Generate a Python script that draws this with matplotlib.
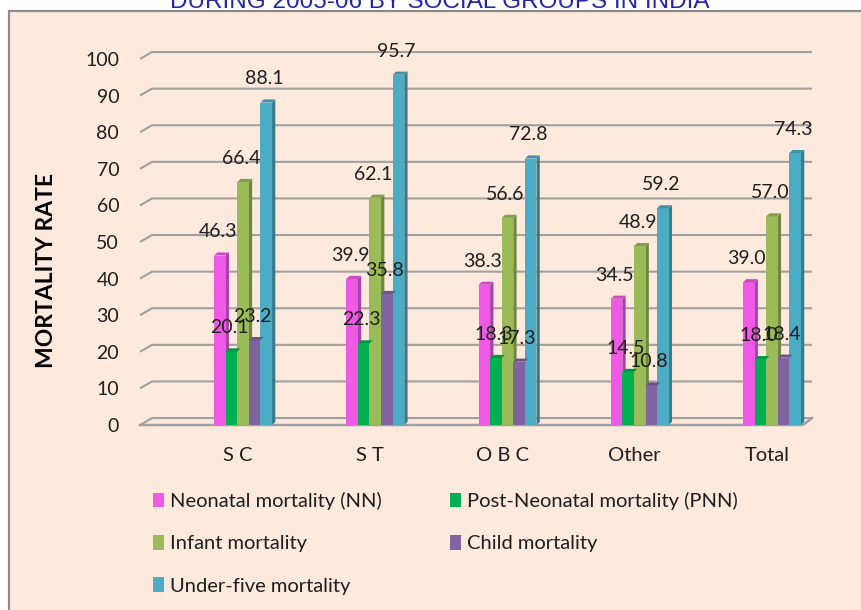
import matplotlib
matplotlib.use("Agg")
import matplotlib.pyplot as plt
from matplotlib.patches import Rectangle, Polygon, Patch
import matplotlib.colors as mcolors
import numpy as np

plt.rcParams['font.family'] = ['Lato', 'DejaVu Sans']

# data
categories = ['S C', 'S T', 'O B C', 'Other', 'Total']
neonatal = [46.3, 39.9, 38.3, 34.5, 39.0]
post_neonatal = [20.1, 22.3, 18.3, 14.5, 18.0]
infant = [66.4, 62.1, 56.6, 48.9, 57.0]
child = [23.2, 35.8, 17.3, 10.8, 18.4]
under_five = [88.1, 95.7, 72.8, 59.2, 74.3]

series_names = ['Neonatal mortality (NN)', 'Post-Neonatal mortality (PNN)',
                'Infant mortality', 'Child mortality', 'Under-five mortality']
series_values = [neonatal, post_neonatal, infant, child, under_five]
colors = ['#EE5AE6', '#00B050', '#9BBB59', '#8064A2', '#4BACC6']

W, H = 862, 610
bg = '#FDEADD'
grid_c = '#A0A0A0'
txt_c = '#1E1E1E'

fig = plt.figure(figsize=(W / 100, H / 100), dpi=100, facecolor='white')

# chart area frame
fig.patches.append(Rectangle((9 / W, -0.1), 1.1, 1 - 11 / H + 0.1, transform=fig.transFigure,
                             facecolor=bg, edgecolor='#8C8C8C', lw=1.6, zorder=-5))

fig.text(440 / W, 1 - 8 / H, 'DURING 2005-06 BY SOCIAL GROUPS IN INDIA',
         ha='center', va='baseline', color='#2525A5', fontsize=17.5,
         family=['Liberation Sans', 'DejaVu Sans'])

ax = fig.add_axes([140 / W, (H - 425) / H, (812 - 140) / W, (425 - 59) / H])
ax.set_facecolor('none')
for s in ax.spines.values():
    s.set_visible(False)

x0, x1 = -0.741, 4.341
ax.set_xlim(x0, x1)
ax.set_ylim(0, 100)

# 3d-ish gridlines (back wall offset)
dx, dy = 0.091, 1.9
for v in range(0, 101, 10):
    ax.plot([x0, x0 + dx, x1], [v, v + dy, v + dy], color=grid_c, lw=1.5,
            clip_on=False, zorder=1, solid_capstyle='butt')
ax.plot([x0, 4.272, x1], [0, 0, dy], color=grid_c, lw=1.8, clip_on=False, zorder=1)

idx = np.arange(len(categories))
w = 0.0877
sw, sd = 0.025, 0.85

def shade(c, f):
    r, g, b = mcolors.to_rgb(c)
    return (r * f, g * f, b * f)

for j, (name, vals, col) in enumerate(zip(series_names, series_values, colors)):
    pos = idx - 0.181 + (j + 0.5) * w
    bars = ax.bar(pos, vals, width=w, color=col, zorder=3 + j * 0.01, label=name)
    for rect in bars:
        xr = rect.get_x() + rect.get_width()
        h = rect.get_height()
        ax.add_patch(Polygon([(xr, 0), (xr + sw, sd), (xr + sw, h + sd), (xr, h)],
                             closed=True, facecolor=shade(col, 0.72), edgecolor='none', zorder=2))
        ax.add_patch(Polygon([(xr - w, h), (xr - w + sw, h + sd), (xr + sw, h + sd), (xr, h)],
                             closed=True, facecolor=shade(col, 0.85), edgecolor='none', zorder=3.5))
        ax.annotate('{:.1f}'.format(h), (rect.get_x() + w / 2, h), xytext=(-1.5, 17),
                    textcoords='offset points', ha='center', va='center',
                    fontsize=14, color=txt_c, zorder=5)

ax.set_yticks(range(0, 101, 10))
ax.set_xticks(idx)
ax.set_xticklabels(categories)
ax.tick_params(axis='y', length=0, pad=15, labelsize=14, labelcolor=txt_c)
ax.tick_params(axis='x', length=0, pad=16, labelsize=14.5, labelcolor=txt_c)

fig.text(47 / W, 1 - 270 / H, 'MORTALITY RATE', rotation=90, ha='center', va='center',
         fontsize=16.5, fontweight='bold', color='black')

handles = [Patch(facecolor=c, label=n) for c, n in zip(colors, series_names)]
order = [0, 2, 4, 1, 3]
fig.legend([handles[i] for i in order], [series_names[i] for i in order],
           loc='upper left', bbox_to_anchor=(153 / W, 1 - 492 / H), ncol=2,
           frameon=False, fontsize=14.5, borderpad=0, borderaxespad=0,
           handlelength=0.55, handleheight=0.75, handletextpad=0.3,
           columnspacing=3.4, labelspacing=1.24, labelcolor=txt_c)

fig.savefig('out.png', dpi=100, facecolor='white')
